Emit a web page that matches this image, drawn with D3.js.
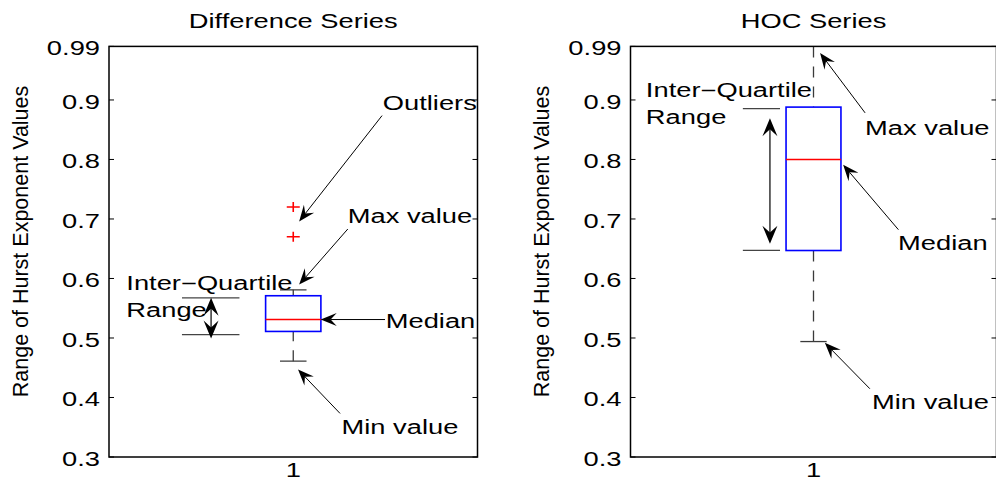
<!DOCTYPE html>
<html>
<head>
<meta charset="utf-8">
<script src="https://cdn.jsdelivr.net/npm/d3@7"></script>
<style>
  html, body { margin: 0; padding: 0; background: #fff; }
  svg text { font-family: "Liberation Sans", Arial, Helvetica, sans-serif; fill: #000; }
</style>
</head>
<body>
<svg id="chart" width="996" height="481"></svg>
<script>
// ---- data -------------------------------------------------------------
const categories = ["1"];
const panelTitles = ["Difference Series", "HOC Series"];
const yLabel = "Range of Hurst Exponent Values";
const yTickValues = [0.3, 0.4, 0.5, 0.6, 0.7, 0.8, 0.9, 0.99];
const yTickLabels = ["0.3", "0.4", "0.5", "0.6", "0.7", "0.8", "0.9", "0.99"];

// five-number summaries, one entry per panel
const lowerWhisker  = [0.461, 0.494];
const lowerQuartile = [0.511, 0.647];
const medianValue   = [0.531, 0.800];
const upperQuartile = [0.571, 0.888];
const upperWhisker  = [0.581, 0.990];
const outlierValues = [[0.720, 0.670], []];

// ---- annotation layout (data units: x = category axis, y = value axis) --
const noteLabels = [
  [
    { lines: ["Outliers"], x: 1.243, y: 0.883 },
    { lines: ["Max value"], x: 1.148, y: 0.693 },
    { lines: ["Inter\u2212Quartile", "Range"], x: 0.547, y: 0.581 },
    { lines: ["Median"], x: 1.251, y: 0.517 },
    { lines: ["Min value"], x: 1.131, y: 0.338 }
  ],
  [
    { lines: ["Inter\u2212Quartile", "Range"], x: 0.542, y: 0.9046 },
    { lines: ["Max value"], x: 1.141, y: 0.8413 },
    { lines: ["Median"], x: 1.231, y: 0.6484 },
    { lines: ["Min value"], x: 1.160, y: 0.380 }
  ]
];
const noteArrows = [
  [
    { from: [1.241, 0.8737], to: [1.016, 0.6959] },
    { from: [1.148, 0.6831], to: [1.016, 0.5897] },
    { from: [1.249, 0.531],  to: [1.0745, 0.531] },
    { from: [1.127, 0.3732], to: [1.013, 0.447] }
  ],
  [
    { from: [1.141, 0.8783], to: [1.018, 0.9789] },
    { from: [1.232, 0.682],  to: [1.081, 0.7911] },
    { from: [1.154, 0.4147], to: [1.031, 0.4918] }
  ]
];
const rangeArrows = [
  { x: 0.777, y0: 0.499, y1: 0.5677, refX0: 0.698, refX1: 0.854, refY: [0.5673, 0.5058] },
  { x: 0.881, y0: 0.6585, y1: 0.8694, refX0: 0.807, refX1: 0.9085, refY: [0.8855, 0.6472] }
];

// ---- layout -----------------------------------------------------------
const panelX = [[109, 477.5], [630.5, 996.5]];
const plotTop = 46.4, plotBottom = 457;
const boxHalf = 0.075, capHalf = 0.036;
const fontSize = 19.5, stretchX = 1.4, lineGap = 27;

const svg = d3.select("#chart");
const y = d3.scaleLinear().domain([0.3, 0.99]).range([plotBottom, plotTop]);

function stretchedText(g, str, px, py, anchor) {
  return g.append("text")
    .attr("transform", `translate(${px},${py}) scale(${stretchX},1)`)
    .attr("text-anchor", anchor)
    .style("font-size", fontSize + "px")
    .text(str);
}

function arrowHead(g, tip, angle, len, wid) {
  const pts = [[0, 0], [-len, -wid / 2], [-len * 0.62, 0], [-len, wid / 2]];
  g.append("path")
    .attr("d", "M" + pts.map(p => p.join(",")).join("L") + "Z")
    .attr("transform", `translate(${tip[0]},${tip[1]}) rotate(${angle * 180 / Math.PI})`)
    .attr("fill", "#000");
}

function arrow(g, p0, p1, len, wid) {
  const ang = Math.atan2(p1[1] - p0[1], p1[0] - p0[0]);
  const back = [p1[0] - Math.cos(ang) * len * 0.62, p1[1] - Math.sin(ang) * len * 0.62];
  g.append("line")
    .attr("x1", p0[0]).attr("y1", p0[1]).attr("x2", back[0]).attr("y2", back[1])
    .attr("stroke", "#000").attr("stroke-width", 1);
  arrowHead(g, p1, ang, len, wid);
}

panelTitles.forEach((title, i) => {
  const [xl, xr] = panelX[i];
  const x = d3.scaleLinear().domain([0.5, 1.5]).range([xl, xr]);
  const g = svg.append("g");
  const clipId = "clip" + i;
  svg.append("clipPath").attr("id", clipId)
    .append("rect").attr("x", xl).attr("y", plotTop).attr("width", xr - xl).attr("height", plotBottom - plotTop);
  const plot = g.append("g").attr("clip-path", `url(#${clipId})`);

  const c = 1; // single category position
  const cx = x(c);
  const dash = "11,9";
  // whiskers
  plot.append("line")
    .attr("x1", cx).attr("x2", cx)
    .attr("y1", y(upperWhisker[i])).attr("y2", y(upperQuartile[i]))
    .attr("stroke", "#3a3a3a").attr("stroke-width", 1.3).attr("stroke-dasharray", dash);
  plot.append("line")
    .attr("x1", cx).attr("x2", cx)
    .attr("y1", y(lowerWhisker[i])).attr("y2", y(lowerQuartile[i]))
    .attr("stroke", "#3a3a3a").attr("stroke-width", 1.3).attr("stroke-dasharray", dash);
  // whisker caps
  [upperWhisker[i], lowerWhisker[i]].forEach(v => {
    plot.append("line")
      .attr("x1", x(c - capHalf)).attr("x2", x(c + capHalf))
      .attr("y1", y(v)).attr("y2", y(v))
      .attr("stroke", "#3a3a3a").attr("stroke-width", 1.3);
  });
  // box
  const bx0 = x(c - boxHalf), bx1 = x(c + boxHalf);
  const by0 = y(upperQuartile[i]), by1 = y(lowerQuartile[i]);
  plot.append("rect")
    .attr("x", bx0).attr("width", bx1 - bx0)
    .attr("y", by0).attr("height", by1 - by0)
    .attr("fill", "none").attr("stroke", "#0000ff").attr("stroke-width", 1.6);
  // median
  const my = y(medianValue[i]);
  plot.append("line")
    .attr("x1", bx0).attr("x2", bx1)
    .attr("y1", my).attr("y2", my)
    .attr("stroke", "#ff0000").attr("stroke-width", 1.6);
  // outliers
  outlierValues[i].forEach(v => {
    const oy = y(v);
    plot.append("path")
      .attr("d", `M${cx - 6.5},${oy}H${cx + 6.5}M${cx},${oy - 5}V${oy + 5}`)
      .attr("stroke", "#ff0000").attr("stroke-width", 1.6).attr("fill", "none");
  });

  // axes frame
  g.append("rect")
    .attr("x", xl).attr("y", plotTop).attr("width", xr - xl).attr("height", plotBottom - plotTop)
    .attr("fill", "none").attr("stroke", "#000").attr("stroke-width", 1.5);
  // inward ticks on both vertical sides
  yTickValues.forEach((v, k) => {
    g.append("line").attr("x1", xl).attr("x2", xl + 5).attr("y1", y(v)).attr("y2", y(v))
      .attr("stroke", "#000").attr("stroke-width", 1);
    g.append("line").attr("x1", xr - 5).attr("x2", xr).attr("y1", y(v)).attr("y2", y(v))
      .attr("stroke", "#000").attr("stroke-width", 1);
    stretchedText(g, yTickLabels[k], xl - 9, y(v) + 9, "end");
  });
  // category tick label
  categories.forEach(cat => {
    stretchedText(g, cat, x(c), 477, "middle");
  });

  // title and axis label
  stretchedText(g, title, x(c), 28, "middle");
  g.append("text")
    .attr("transform", `translate(${xl - 81.5},${241.5}) rotate(-90)`)
    .attr("text-anchor", "middle")
    .style("font-size", "21.5px")
    .text(yLabel);

  // annotation text
  noteLabels[i].forEach(n => {
    n.lines.forEach((ln, j) => {
      stretchedText(g, ln, x(n.x), y(n.y) + j * lineGap, "start");
    });
  });

  // inter-quartile reference lines and double-headed arrow
  const ra = rangeArrows[i];
  ra.refY.forEach(v => {
    g.append("line")
      .attr("x1", x(ra.refX0)).attr("x2", x(ra.refX1))
      .attr("y1", y(v)).attr("y2", y(v))
      .attr("stroke", "#444").attr("stroke-width", 1.3);
  });
  const top = [x(ra.x), y(ra.y1)], bot = [x(ra.x), y(ra.y0)];
  g.append("line")
    .attr("x1", top[0]).attr("x2", bot[0])
    .attr("y1", top[1] + 10).attr("y2", bot[1] - 10)
    .attr("stroke", "#000").attr("stroke-width", 1.2);
  arrowHead(g, top, -Math.PI / 2, 18, 15);
  arrowHead(g, bot, Math.PI / 2, 18, 15);

  // pointer arrows
  noteArrows[i].forEach(a => {
    arrow(g, [x(a.from[0]), y(a.from[1])], [x(a.to[0]), y(a.to[1])], 16, 13);
  });
});
</script>
</body>
</html>
